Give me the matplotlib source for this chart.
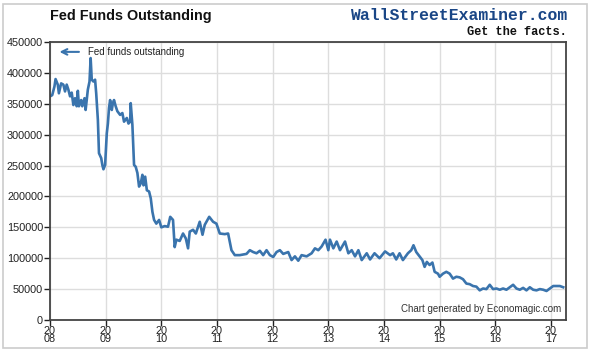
import numpy as np
import matplotlib
matplotlib.use("Agg")
import matplotlib.pyplot as plt
from matplotlib.patches import Rectangle

# decimal year / fed funds outstanding (thousands)
years = [
    2008.00, 2008.04, 2008.08, 2008.10, 2008.14, 2008.16, 2008.20, 2008.24, 2008.27, 2008.30,
    2008.33, 2008.36, 2008.39, 2008.42, 2008.45, 2008.48, 2008.50, 2008.52, 2008.56, 2008.58,
    2008.62, 2008.64, 2008.68, 2008.71, 2008.73, 2008.75, 2008.78, 2008.81, 2008.83, 2008.86,
    2008.88, 2008.92, 2008.94, 2008.96, 2008.99, 2009.02, 2009.04, 2009.06, 2009.08, 2009.11,
    2009.13, 2009.15, 2009.18, 2009.21, 2009.26, 2009.30, 2009.33, 2009.38, 2009.41, 2009.44,
    2009.45, 2009.48, 2009.51, 2009.54, 2009.57, 2009.60, 2009.63, 2009.66, 2009.68, 2009.71,
    2009.74, 2009.78, 2009.81, 2009.84, 2009.87, 2009.91, 2009.96, 2010.00, 2010.06, 2010.12,
    2010.16, 2010.21, 2010.24, 2010.27, 2010.33, 2010.39, 2010.44, 2010.48, 2010.51, 2010.57,
    2010.62, 2010.69, 2010.74, 2010.78, 2010.86, 2010.93, 2010.99, 2011.05, 2011.14, 2011.20,
    2011.26, 2011.32, 2011.41, 2011.53, 2011.59, 2011.65, 2011.71, 2011.77, 2011.83, 2011.89,
    2011.95, 2012.01, 2012.07, 2012.13, 2012.19, 2012.28, 2012.34, 2012.40, 2012.46, 2012.52,
    2012.61, 2012.70, 2012.76, 2012.82, 2012.88, 2012.95, 2013.00, 2013.03, 2013.09, 2013.15,
    2013.21, 2013.30, 2013.36, 2013.42, 2013.48, 2013.54, 2013.60, 2013.69, 2013.75, 2013.83,
    2013.92, 2014.02, 2014.11, 2014.16, 2014.22, 2014.28, 2014.34, 2014.43, 2014.49, 2014.53,
    2014.58, 2014.64, 2014.69, 2014.73, 2014.77, 2014.82, 2014.87, 2014.91, 2014.97, 2015.00,
    2015.06, 2015.12, 2015.18, 2015.24, 2015.30, 2015.36, 2015.42, 2015.48, 2015.54, 2015.60,
    2015.66, 2015.72, 2015.78, 2015.84, 2015.90, 2015.96, 2016.02, 2016.08, 2016.14, 2016.20,
    2016.26, 2016.32, 2016.38, 2016.44, 2016.50, 2016.56, 2016.62, 2016.68, 2016.74, 2016.80,
    2016.86, 2016.92, 2016.98, 2017.04, 2017.10, 2017.16, 2017.22,
]
funds = [
    362, 364, 378, 390, 381, 367, 383, 381, 370, 381,
    373, 362, 368, 348, 359, 346, 371, 346, 356, 346,
    359, 340, 373, 386, 424, 389, 386, 389, 367, 324,
    270, 262, 251, 244, 251, 302, 318, 343, 356, 340,
    351, 356, 346, 338, 332, 335, 321, 327, 318, 321,
    351, 316, 251, 248, 238, 216, 221, 235, 218, 232,
    210, 208, 197, 175, 162, 156, 162, 150, 152, 151,
    167, 162, 118, 130, 128, 140, 132, 116, 143, 146,
    140, 159, 138, 154, 167, 159, 156, 140, 139, 140,
    113, 105, 105, 107, 113, 110, 108, 112, 105, 113,
    105, 102, 110, 113, 107, 110, 97, 103, 96, 105,
    103, 108, 116, 113, 119, 130, 113, 130, 116, 127,
    113, 127, 108, 113, 103, 113, 97, 108, 98, 108,
    100, 111, 105, 108, 98, 108, 97, 108, 113, 121,
    110, 103, 97, 86, 94, 89, 93, 78, 75, 70,
    75, 78, 75, 67, 70, 69, 66, 59, 58, 55,
    54, 48, 51, 50, 57, 50, 51, 49, 51, 49,
    53, 57, 51, 49, 52, 48, 53, 49, 48, 50,
    49, 47, 51, 55, 55, 55, 53,
]
year_ticks = list(range(2008, 2018))
y_ticks = list(range(0, 450001, 50000))

W, H = 591, 352
fig = plt.figure(figsize=(W / 100, H / 100), dpi=100)
fig.patches.append(Rectangle((3 / W, 4 / H), 584 / W, 344 / H, transform=fig.transFigure,
                             fill=False, edgecolor="#cccccc", lw=1.2))

ax = fig.add_axes([50 / W, 1 - 320 / H, 516 / W, 278 / H])
ax.plot(years, np.array(funds) * 1000, color="#3a74ad", lw=1.9)
ax.set_xlim(2008, 2017.27)
ax.set_ylim(0, 450000)

ax.set_xticks(year_ticks)
ax.set_xticklabels(["20\n%02d" % (y % 100) for y in year_ticks], linespacing=0.8,
                   family="Liberation Sans")
ax.set_yticks(y_ticks)
ax.set_yticklabels([str(v) for v in y_ticks], family="Liberation Sans")
ax.tick_params(labelsize=7.8, colors="#222222", length=4, width=1, pad=1)
ax.tick_params(axis="x", pad=0)
ax.grid(True, color="#dddddd", lw=1)
ax.set_axisbelow(True)
for s in ax.spines.values():
    s.set_color("#444444")
    s.set_linewidth(1.3)

fig.text(50 / W, 1 - 16 / H, "Fed Funds Outstanding", fontsize=10.4, fontweight="bold",
         family="Liberation Sans", va="center", color="#111111")
fig.text(567 / W, 1 - 16 / H, "WallStreetExaminer.com", fontsize=11.8, fontweight="bold",
         family="Liberation Mono", va="center", ha="right", color="#1a4686")
fig.text(567 / W, 1 - 32 / H, "Get the facts.", fontsize=8.6, fontweight="bold",
         family="Liberation Mono", va="center", ha="right", color="#111111")

ax.annotate("", xy=(2008.12, 434000), xytext=(2008.57, 434000),
            arrowprops=dict(arrowstyle="->", color="#3a74ad", lw=1.5))
ax.text(2008.68, 434000, "Fed funds outstanding", fontsize=7, va="center", color="#222222",
        family="Liberation Sans")
ax.text(0.99, 0.02, "Chart generated by Economagic.com", transform=ax.transAxes,
        fontsize=7, ha="right", va="bottom", color="#333333", family="Liberation Sans")

fig.savefig("out.png", dpi=100)
